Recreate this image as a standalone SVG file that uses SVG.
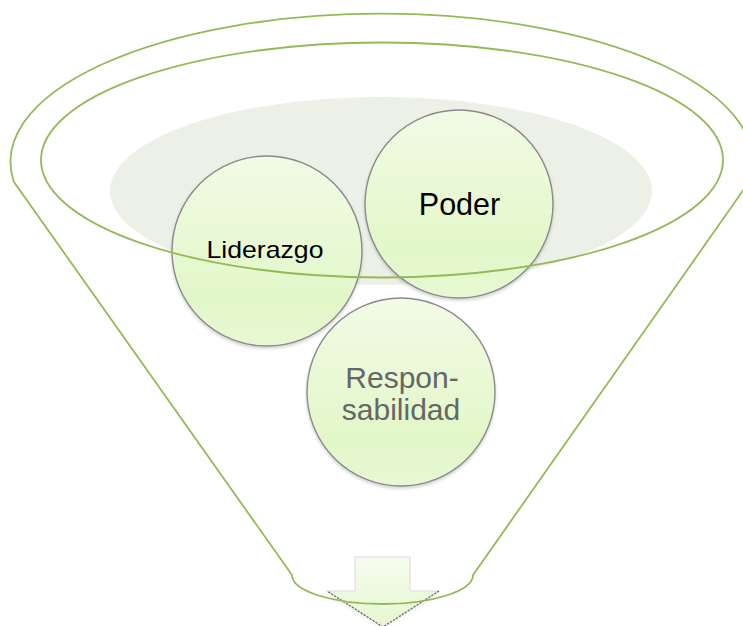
<svg xmlns="http://www.w3.org/2000/svg" width="743" height="626" viewBox="0 0 743 626">
<style>
.funnel{fill:none;stroke:#94B957;stroke-width:1.8}
.ball{fill:url(#ballGrad);stroke:#8A8A8A;stroke-width:1.4;filter:url(#soft)}
.lbl{font-family:"Liberation Sans",Arial,sans-serif;text-anchor:middle}
</style>
<defs>
<linearGradient id="ballGrad" x1="0" y1="0" x2="0" y2="1">
<stop offset="0" stop-color="#F2FBE6"/>
<stop offset="0.75" stop-color="#E2F7C8"/>
<stop offset="1" stop-color="#E8F8D4"/>
</linearGradient>
<linearGradient id="arrowGrad" x1="0" y1="0" x2="0" y2="1">
<stop offset="0" stop-color="#F6FCEE"/>
<stop offset="1" stop-color="#E6F8CF"/>
</linearGradient>
<filter id="soft" x="-10%" y="-10%" width="120%" height="125%">
<feDropShadow dx="0" dy="2" stdDeviation="1.5" flood-color="#000000" flood-opacity="0.18"/>
</filter>
</defs>
<rect width="743" height="626" fill="#FFFFFF"/>
<ellipse id="shade" cx="381" cy="191" rx="271" ry="94" fill="#EDF0E6"/>
<g id="arrow">
<polygon points="355,557 410,557 410,591 439,591 383,627 327,591 355,591" fill="url(#arrowGrad)" stroke="#DADADA" stroke-width="1"/>
<polyline points="439,591 383,627 327,591" fill="none" stroke="#6E6E6E" stroke-width="1.4" stroke-dasharray="2,1.5" filter="url(#soft)"/>
</g>
<g id="liderazgo">
<circle class="ball" cx="267" cy="251" r="95"/>
<text class="lbl" x="265" y="258" font-size="24" textLength="117" lengthAdjust="spacingAndGlyphs" fill="#000000">Liderazgo</text>
</g>
<g id="poder">
<circle class="ball" cx="459" cy="204" r="94"/>
<text class="lbl" x="459.5" y="215" font-size="30.5" fill="#000000">Poder</text>
</g>
<g id="responsabilidad">
<circle class="ball" cx="401" cy="392" r="94"/>
<text class="lbl" x="402" y="388" font-size="30" fill="#666666">Respon-</text>
<text class="lbl" x="401" y="420" font-size="30" fill="#666666">sabilidad</text>
</g>
<g id="connectors">
<path class="funnel" d="M 292 575 L 14 182 A 371 148 0 1 1 749 182 L 473 575 A 90.5 29 0 0 1 292 575 Z"/>
<ellipse class="funnel" cx="382" cy="160" rx="341" ry="117.5"/>
</g>
</svg>
